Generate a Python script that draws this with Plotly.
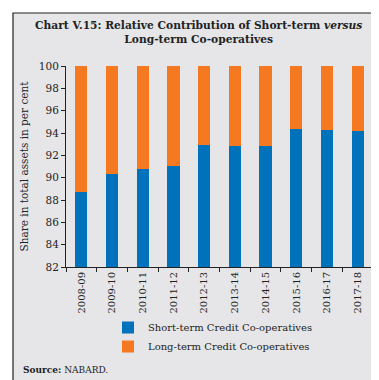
import plotly.graph_objects as go

years = ["2008-09", "2009-10", "2010-11", "2011-12", "2012-13",
         "2013-14", "2014-15", "2015-16", "2016-17", "2017-18"]
short_term = [88.75, 90.36, 90.74, 91.01, 92.95, 92.84, 92.84, 94.39, 94.27, 94.15]
long_term = [round(100 - v, 2) for v in short_term]
y_ticks = [82, 84, 86, 88, 90, 92, 94, 96, 98, 100]

W, H = 379, 380
L, R, T, B = 58, 14, 58, 121
pw, ph = W - L - R, H - T - B

def px(x):
    return (x - L) / pw

def py(y):
    return 1 - (y - T) / ph

SERIF = "DejaVu Serif"

fig = go.Figure()
fig.add_trace(go.Bar(x=years, y=short_term, name="Short-term Credit Co-operatives",
                     marker=dict(color="#0072bc", line=dict(width=0)), width=0.4))
fig.add_trace(go.Bar(x=years, y=long_term, name="Long-term Credit Co-operatives",
                     marker=dict(color="#f47920", line=dict(width=0)), width=0.4))

fig.update_layout(
    width=W, height=H,
    margin=dict(l=L, r=R, t=T, b=B),
    barmode="stack",
    paper_bgcolor="white",
    plot_bgcolor="#e6e6e8",
    font=dict(family=SERIF, size=10, color="#222"),
    showlegend=True,
    legend=dict(x=px(100), y=py(305), xanchor="left", yanchor="top",
                bgcolor="rgba(0,0,0,0)", font=dict(size=10, family=SERIF),
                itemwidth=30, tracegroupgap=0, traceorder="normal"),
    xaxis=dict(type="category", showline=True, linecolor="#222", linewidth=1, ticks="outside",
               tickson="boundaries", ticklen=4, tickcolor="#222",
               tickangle=-90, tickfont=dict(size=10, family=SERIF),
               showgrid=False),
    yaxis=dict(range=[82, 100], tickvals=y_ticks, showline=True, linecolor="#222",
               linewidth=1, ticks="outside", ticklen=4, tickcolor="#222",
               showgrid=False, zeroline=False, tickfont=dict(size=10.5, family=SERIF),
               title=dict(text="Share in total assets in per cent", standoff=8,
                          font=dict(size=10.5, family=SERIF))),
    shapes=[
        dict(type="rect", xref="paper", yref="paper", layer="below",
             x0=px(5), x1=px(373), y0=py(374), y1=py(5),
             fillcolor="#e6e6e8", line=dict(color="#222", width=1.2)),
    ],
    annotations=[
        dict(text="<b>Chart V.15: Relative Contribution of Short-term <i>versus</i><br>Long-term Co-operatives</b>",
             xref="paper", yref="paper", x=px(190), y=py(9), xanchor="center", yanchor="top",
             showarrow=False, font=dict(size=10.7, family=SERIF, color="#222")),
        dict(text="<b>Source:</b> NABARD.", xref="paper", yref="paper",
             x=px(13), y=py(362), xanchor="left", yanchor="middle",
             showarrow=False, font=dict(size=9, family=SERIF, color="#222")),
    ],
)

fig.write_html("out.html")
